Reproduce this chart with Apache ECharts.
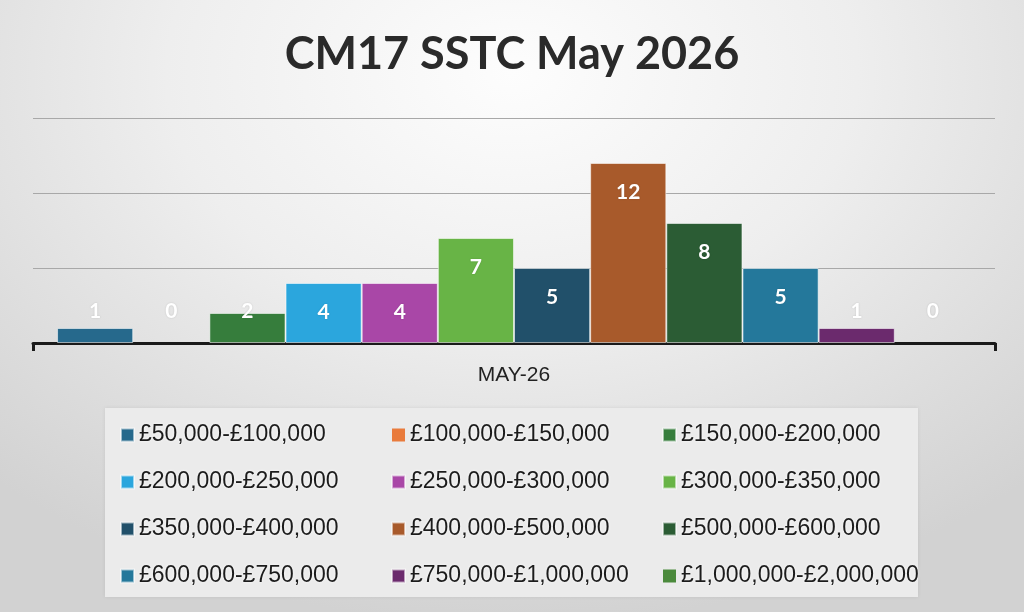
<!DOCTYPE html>
<html>
<head>
<meta charset="utf-8">
<script src="https://cdn.jsdelivr.net/npm/echarts@6/dist/echarts.min.js"></script>
<style>
  html, body { margin: 0; padding: 0; }
  #chart {
    width: 1024px; height: 612px;
    background: radial-gradient(ellipse 75% 90% at 50% 12%, #fdfdfd 0%, #eeeeee 45%, #dcdcdc 80%, #d2d2d2 100%);
  }
</style>
</head>
<body>
<div id="chart"></div>
<script>
var categories = ['MAY-26']

var seriesNames = [
  '£50,000-£100,000', '£100,000-£150,000', '£150,000-£200,000',
  '£200,000-£250,000', '£250,000-£300,000', '£300,000-£350,000',
  '£350,000-£400,000', '£400,000-£500,000', '£500,000-£600,000',
  '£600,000-£750,000', '£750,000-£1,000,000', '£1,000,000-£2,000,000'
]

var seriesValues = [1, 0, 2, 4, 4, 7, 5, 12, 8, 5, 1, 0]

var seriesColors = [
  '#26698c', '#e97b3c', '#367d3c', '#2ba6dd', '#a947a7', '#68b446',
  '#21506a', '#a85a2b', '#2b5c34', '#24789b', '#6b2a6d', '#4b8a3c'
]

var chart = echarts.init(document.getElementById('chart'), null, { renderer: 'canvas' })

var series = seriesNames.map(function (name, i) {
  var v = seriesValues[i]
  // small bars get their label lifted off the axis, like Excel does
  var label = v >= 4
    ? { position: 'insideTop', distance: 19 }
    : { position: 'insideBottom', distance: 21 }
  return {
    name: name,
    type: 'bar',
    data: [v],
    barGap: '0%',
    barCategoryGap: '5%',
    itemStyle: {
      color: seriesColors[i],
      borderColor: 'rgba(255,255,255,0.55)',
      borderWidth: v > 0 ? 1 : 0
    },
    label: {
      show: true,
      position: label.position,
      distance: label.distance,
      color: '#ffffff',
      fontFamily: 'Lato',
      fontWeight: 'bold',
      fontSize: 21,
      textShadowColor: 'rgba(0,0,0,0.15)',
      textShadowBlur: 2
    }
  }
})

function legendColumn (col, left) {
  var names = seriesNames.filter(function (n, i) { return i % 3 === col })
  return {
    orient: 'vertical',
    left: left,
    top: 418,
    data: names,
    icon: 'rect',
    itemWidth: 13,
    itemHeight: 13,
    itemGap: 23,
    selectedMode: false,
    textStyle: {
      fontFamily: 'Liberation Sans',
      fontSize: 23,
      lineHeight: 24,
      color: '#1c1c1c',
      textShadowColor: 'rgba(255,255,255,0.9)',
      textShadowBlur: 3
    }
  }
}

var option = {
  backgroundColor: 'transparent',
  animation: false,
  title: {
    text: 'CM17 SSTC May 2026',
    left: 'center',
    top: 27,
    textStyle: {
      fontFamily: 'Lato',
      fontWeight: 'bold',
      fontSize: 45,
      color: '#2a2a2a'
    }
  },
  graphic: [{
    type: 'rect',
    left: 105,
    top: 408,
    shape: { width: 813, height: 189 },
    style: {
      fill: '#ebebeb',
      shadowColor: 'rgba(0,0,0,0.08)',
      shadowBlur: 4
    },
    z: -1
  }],
  legend: [legendColumn(0, 115), legendColumn(1, 386), legendColumn(2, 657)],
  grid: {
    left: 33,
    right: 29,
    top: 118,
    bottom: 269
  },
  xAxis: {
    type: 'category',
    data: categories,
    axisLine: { lineStyle: { color: '#1a1a1a', width: 3 } },
    axisTick: { show: true, length: 8, lineStyle: { color: '#1a1a1a', width: 3 } },
    axisLabel: {
      margin: 22,
      fontFamily: 'Liberation Sans',
      fontSize: 21,
      color: '#222222'
    }
  },
  yAxis: {
    type: 'value',
    min: 0,
    max: 15,
    interval: 5,
    axisLabel: { show: false },
    axisLine: { show: false },
    axisTick: { show: false },
    splitLine: { lineStyle: { color: '#a8a8a8', width: 1 } }
  },
  series: series
}

chart.setOption(option)
</script>
</body>
</html>
